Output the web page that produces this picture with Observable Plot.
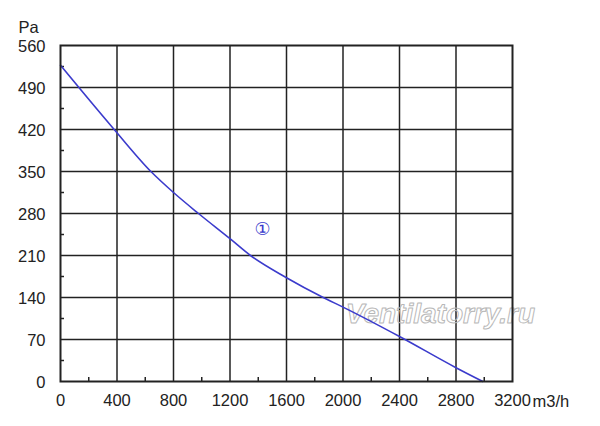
<!DOCTYPE html>
<html>
<head>
<meta charset="utf-8">
<script src="https://cdn.jsdelivr.net/npm/d3@7"></script>
<script src="https://cdn.jsdelivr.net/npm/@observablehq/plot@0.6"></script>
<style>
  body { margin: 0; background: #fff; }
  #chart { width: 600px; height: 426px; }
</style>
</head>
<body>
<div id="chart"></div>
<script>
// fan curve
const flow = [0, 380, 640, 800, 977, 1200, 1345, 1600, 1860, 2000, 2400, 2800, 2990];
const pressure = [527, 420, 350, 315, 280, 238, 210, 173, 140, 124, 75, 23, 0];

const xTicks = [0, 400, 800, 1200, 1600, 2000, 2400, 2800, 3200];
const yTicks = [0, 70, 140, 210, 280, 350, 420, 490, 560];
const xMinor = [200, 600, 1000, 1400, 1800, 2200, 2600, 3000];
const yMinor = [35, 105, 175, 245, 315, 385, 455, 525];

const curveLabel = { x: 1430, y: 253, text: "①" };
const watermark = { x: 2690, y: 112, text: "Ventilatorry.ru" };

const container = document.getElementById("chart");

const chart = Plot.plot({
  width: 600,
  height: 426,
  marginLeft: 60,
  marginRight: 88,
  marginTop: 45,
  marginBottom: 45,
  style: { fontFamily: "Liberation Sans, Arial, sans-serif", fontSize: "16.5px", color: "#222", background: "#fff" },
  x: { domain: [0, 3200], label: null },
  y: { domain: [0, 560], label: null },
  marks: [
    Plot.ruleX(xTicks.slice(1, -1), { stroke: "#222", strokeWidth: 1.5 }),
    Plot.ruleY(yTicks.slice(1, -1), { stroke: "#222", strokeWidth: 1.5 }),
    Plot.axisX({ ticks: xTicks, tickSize: 0, tickPadding: 13, fontSize: 16.5, tickFormat: d => String(d) }),
    Plot.axisY({ ticks: yTicks, tickSize: 0, tickPadding: 15, dy: 1, fontSize: 16.5, tickFormat: d => String(d) }),
    Plot.axisX({ ticks: xMinor, tickSize: -4, tickFormat: () => "", stroke: "#222", strokeWidth: 1.5 }),
    Plot.axisY({ ticks: yMinor, tickSize: -4, tickFormat: () => "", stroke: "#222", strokeWidth: 1.5 }),
    Plot.text([watermark], {
      x: "x", y: "y", text: "text",
      fontSize: 28, fontWeight: "bold", fontStyle: "italic",
      fill: "none", stroke: "#b8b8b8", strokeWidth: 1
    }),
    Plot.line(flow.map((f, i) => ({ flow: f, pa: pressure[i] })), {
      x: "flow", y: "pa", curve: "monotone-x", stroke: "#3b3bcc", strokeWidth: 1.6
    }),
    Plot.text([curveLabel], {
      x: "x", y: "y", text: "text", fill: "#3b3bcc",
      fontSize: 18, fontFamily: "DejaVu Serif, DejaVu Sans, serif"
    }),
    Plot.frame({ stroke: "#222", strokeWidth: 2 }),
    Plot.text(["Pa"], { frameAnchor: "top-left", dx: -42, dy: -13, textAnchor: "start", lineAnchor: "bottom", fontSize: 16.5 }),
    Plot.text(["m3/h"], { frameAnchor: "bottom-right", dx: 20, dy: 20, textAnchor: "start", lineAnchor: "middle", fontSize: 16.5 })
  ]
});

container.innerHTML = '';
container.appendChild(chart);
</script>
</body>
</html>
